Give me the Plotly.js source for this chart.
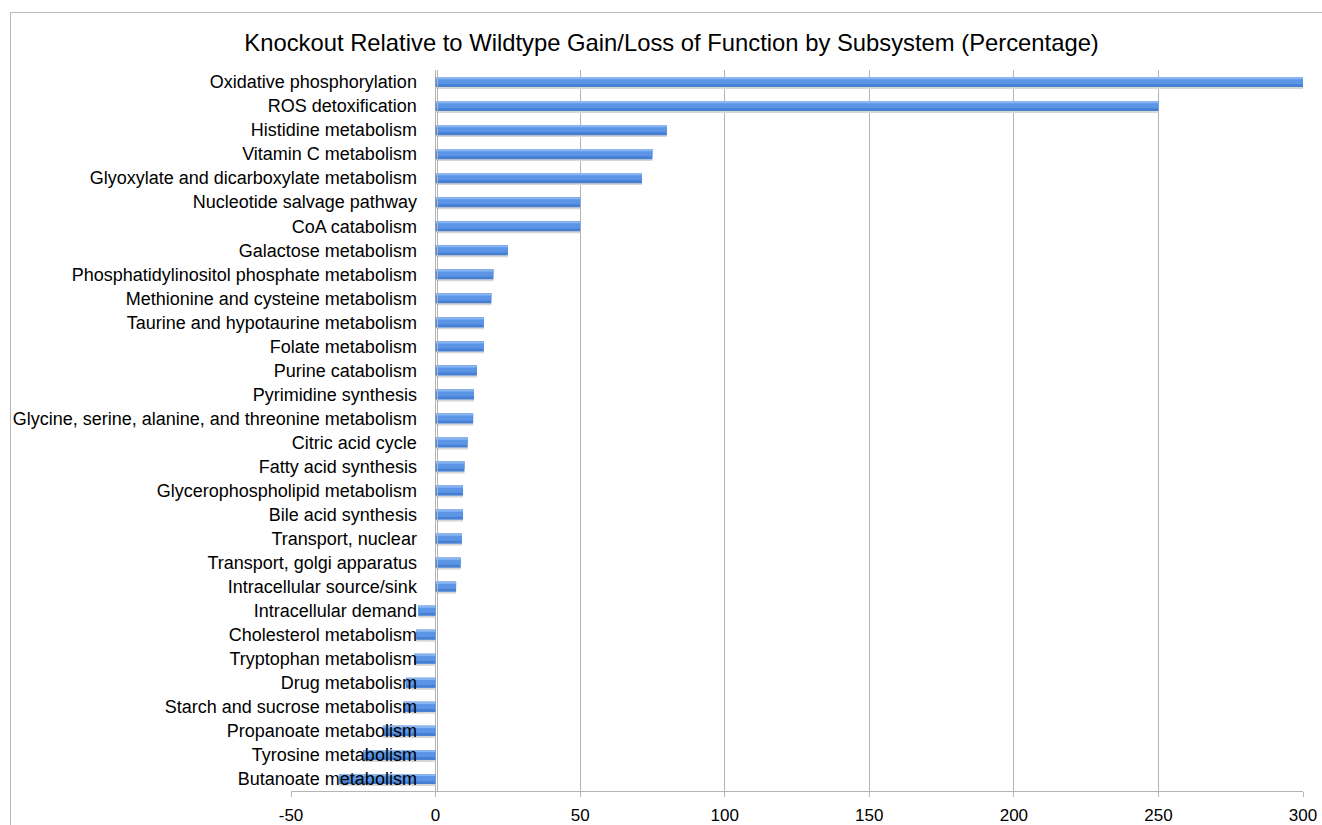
<!DOCTYPE html>
<html>
<head>
<meta charset="utf-8">
<script src="https://cdn.plot.ly/plotly-3.0.1.min.js"></script>
<style>
html,body{margin:0;padding:0;background:#fff;}
#chart{width:1322px;height:825px;}
#frame{position:absolute;left:10px;top:12px;width:1400px;height:900px;border-left:1px solid #b8b8b8;border-top:1px solid #b8b8b8;pointer-events:none;}
</style>
</head>
<body>
<div id="chart"></div>
<div id="frame"></div>
<script>
const subsystems = [
  "Oxidative phosphorylation",
  "ROS detoxification",
  "Histidine metabolism",
  "Vitamin C metabolism",
  "Glyoxylate and dicarboxylate metabolism",
  "Nucleotide salvage pathway",
  "CoA catabolism",
  "Galactose metabolism",
  "Phosphatidylinositol phosphate metabolism",
  "Methionine and cysteine metabolism",
  "Taurine and hypotaurine metabolism",
  "Folate metabolism",
  "Purine catabolism",
  "Pyrimidine synthesis",
  "Glycine, serine, alanine, and threonine metabolism",
  "Citric acid cycle",
  "Fatty acid synthesis",
  "Glycerophospholipid metabolism",
  "Bile acid synthesis",
  "Transport, nuclear",
  "Transport, golgi apparatus",
  "Intracellular source/sink",
  "Intracellular demand",
  "Cholesterol metabolism",
  "Tryptophan metabolism",
  "Drug metabolism",
  "Starch and sucrose metabolism",
  "Propanoate metabolism",
  "Tyrosine metabolism",
  "Butanoate metabolism"
];
const percentChange = [
  300, 250, 80, 75, 71.4, 50, 50, 25, 20, 19.3,
  16.7, 16.7, 14.3, 13.3, 13, 11.1, 10, 9.5, 9.5, 9.1,
  8.7, 7.1, -6, -6.7, -7.4, -10.3, -11.1, -18.2, -25, -33.3
];
const xTicks = [-50, 0, 50, 100, 150, 200, 250, 300];

const font = "'Liberation Sans', Arial, sans-serif";

function layer(width, offset, color) {
  return {
    type: "bar", orientation: "h",
    x: percentChange, y: subsystems,
    width: width, offset: offset,
    marker: {color: color, line: {width: 0}},
    hoverinfo: "skip", showlegend: false
  };
}
const traces = [
  layer(0.09, 0.2, "#d6d6d6"),     // soft shadow
  layer(0.42, -0.21, "#477fd3"),   // darker lower part
  layer(0.30, -0.21, "#5c95e5"),   // main body
  layer(0.09, -0.21, "#8ab5f1")    // light top edge
];

const layout = {
  width: 1322, height: 825,
  margin: {l: 291, r: 19, t: 70, b: 34, pad: 0},
  paper_bgcolor: "rgba(0,0,0,0)", plot_bgcolor: "#fff",
  barmode: "overlay",
  title: {
    text: "Knockout Relative to Wildtype Gain/Loss of Function by Subsystem (Percentage)",
    font: {family: font, size: 23.8, color: "#000"},
    x: 0.508, xanchor: "center", y: 0.948, yanchor: "middle"
  },
  xaxis: {
    range: [-50, 300], tickvals: xTicks, ticktext: xTicks.map(String),
    showgrid: true, gridcolor: "#b4b4b4", gridwidth: 1,
    zeroline: false, showline: true, linecolor: "#b4b4b4", linewidth: 1,
    ticks: "outside", ticklen: 5, tickcolor: "#b4b4b4",
    ticklabelstandoff: 4,
    tickfont: {family: font, size: 17, color: "#000"},
    fixedrange: true
  },
  yaxis: {
    autorange: "reversed", type: "category",
    anchor: "free", position: 145.5 / 1012,
    showgrid: false, zeroline: false,
    showline: true, linecolor: "#b4b4b4", linewidth: 1,
    ticks: "outside", ticklen: 16, tickcolor: "rgba(0,0,0,0)",
    tickfont: {family: font, size: 18, color: "#000"},
    fixedrange: true
  }
};

Plotly.newPlot("chart", traces, layout, {displayModeBar: false, staticPlot: true});
</script>
</body>
</html>
